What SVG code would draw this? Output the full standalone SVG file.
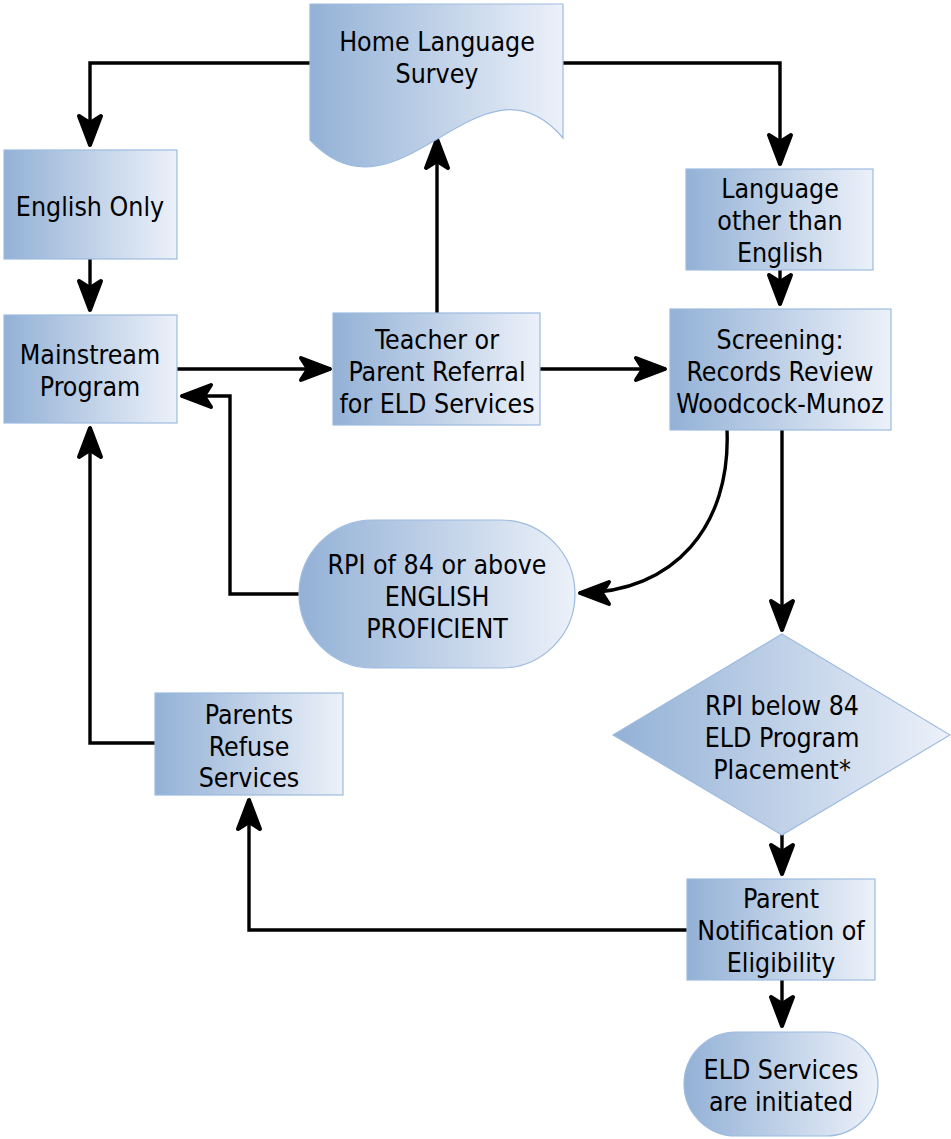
<svg xmlns="http://www.w3.org/2000/svg" width="951" height="1139" viewBox="0 0 951 1139">
<style>
.n{fill:url(#g);stroke:#9dbbdf;stroke-width:1.2}
.t{font-family:"DejaVu Sans Condensed","DejaVu Sans","Liberation Sans",sans-serif;font-size:26.5px;fill:#000;text-anchor:middle}
.c{fill:none;stroke:#000;stroke-width:3.4;marker-end:url(#a)}
</style>
<defs>
<linearGradient id="g" x1="0" y1="0" x2="1" y2="0">
<stop offset="0" stop-color="#93b1d6"/>
<stop offset="1" stop-color="#ecf1f9"/>
</linearGradient>
<marker id="a" markerUnits="userSpaceOnUse" markerWidth="38" markerHeight="34" viewBox="-36 -17 38 34" refX="0" refY="0" orient="auto">
<path d="M-1,0 L-30,-11 L-23,0 L-30,11 Z" fill="#000" stroke="#000" stroke-width="4" stroke-linejoin="round"/>
</marker>
</defs>
<g id="connectors">
<path class="c" d="M310,63 H90 V146"/>
<path class="c" d="M563,63 H780 V165"/>
<path class="c" d="M90,259 V311"/>
<path class="c" d="M177,369 H331"/>
<path class="c" d="M437,313 V138"/>
<path class="c" d="M540,369 H666"/>
<path class="c" d="M780,270 V305"/>
<path class="c" d="M727,430 C731,525 675,593 579,593"/>
<path class="c" d="M782,430 V631"/>
<path class="c" d="M299,594 H230 V396 H181"/>
<path class="c" d="M155,743 H90 V427"/>
<path class="c" d="M782,834 V875"/>
<path class="c" d="M687,930 H249 V799"/>
<path class="c" d="M782,980 V1027"/>
</g>
<g id="home-language-survey">
<path class="n" d="M310,4 H563 V138 C480,40 400,235 310,140 Z"/>
<text class="t" x="437" y="51">Home Language</text>
<text class="t" x="437" y="83">Survey</text>
</g>
<g id="english-only">
<rect class="n" x="4" y="150" width="173" height="109"/>
<text class="t" x="90" y="216">English Only</text>
</g>
<g id="mainstream-program">
<rect class="n" x="4" y="315" width="173" height="108"/>
<text class="t" x="90" y="364">Mainstream</text>
<text class="t" x="90" y="396">Program</text>
</g>
<g id="teacher-referral">
<rect class="n" x="333" y="313" width="207" height="112"/>
<text class="t" x="437" y="349">Teacher or</text>
<text class="t" x="437" y="381">Parent Referral</text>
<text class="t" x="437" y="413">for ELD Services</text>
</g>
<g id="language-other">
<rect class="n" x="686" y="169" width="187" height="101"/>
<text class="t" x="780" y="198">Language</text>
<text class="t" x="780" y="230">other than</text>
<text class="t" x="780" y="262">English</text>
</g>
<g id="screening">
<rect class="n" x="670" y="309" width="221" height="121"/>
<text class="t" x="780" y="349">Screening:</text>
<text class="t" x="780" y="381">Records Review</text>
<text class="t" x="780" y="413">Woodcock-Munoz</text>
</g>
<g id="rpi-proficient">
<rect class="n" x="299" y="520" width="276" height="148" rx="74" ry="74"/>
<text class="t" x="437" y="574">RPI of 84 or above</text>
<text class="t" x="437" y="606">ENGLISH</text>
<text class="t" x="437" y="638">PROFICIENT</text>
</g>
<g id="rpi-below">
<path class="n" d="M782,634 L950,735 L782,835 L613,735 Z"/>
<text class="t" x="782" y="715">RPI below 84</text>
<text class="t" x="782" y="747">ELD Program</text>
<text class="t" x="782" y="779">Placement*</text>
</g>
<g id="parents-refuse">
<rect class="n" x="155" y="693" width="188" height="102"/>
<text class="t" x="249" y="724">Parents</text>
<text class="t" x="249" y="756">Refuse</text>
<text class="t" x="249" y="787">Services</text>
</g>
<g id="parent-notification">
<rect class="n" x="687" y="879" width="188" height="101"/>
<text class="t" x="781" y="908">Parent</text>
<text class="t" x="781" y="940">Notification of</text>
<text class="t" x="781" y="972">Eligibility</text>
</g>
<g id="eld-services">
<rect class="n" x="684" y="1032" width="194" height="104" rx="52" ry="52"/>
<text class="t" x="781" y="1079">ELD Services</text>
<text class="t" x="781" y="1111">are initiated</text>
</g>
</svg>
